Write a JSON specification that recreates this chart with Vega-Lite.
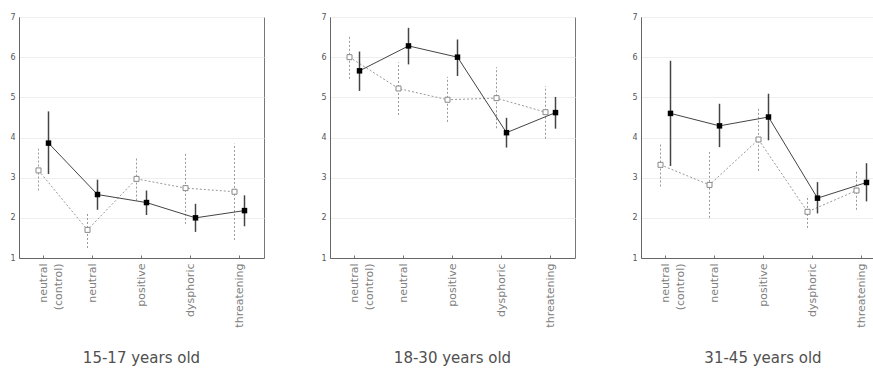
{
  "$schema": "https://vega.github.io/schema/vega-lite/v6.json",
  "padding": {"left": 9, "top": 12, "right": 0, "bottom": 0},
  "background": "white",
  "config": {
    "view": {"stroke": "#777", "strokeWidth": 1},
    "font": "DejaVu Sans",
    "axisX": {"labelAngle": -90, "labelAlign": "right", "labelBaseline": "middle", "labelFontSize": 11, "labelColor": "#808080", "labelPadding": 8, "tickSize": -3, "tickColor": "#777", "domain": true, "domainColor": "#666", "grid": false, "title": null, "labelLineHeight": 15},
    "axisY": {"labelFontSize": 8, "labelColor": "#555", "labelPadding": 4, "ticks": false, "domain": true, "domainColor": "#666", "grid": true, "gridColor": "#eeeeee", "title": null},
    "title": {"orient": "bottom", "fontSize": 15, "fontWeight": "normal", "color": "#505050", "frame": "group", "anchor": "middle", "offset": 24}
  },
  "data": {"values": [
    {"age": "15-17", "cond": "neutral (control)", "group": "A", "mean": 3.86, "lo": 3.09, "hi": 4.65},
    {"age": "15-17", "cond": "neutral", "group": "A", "mean": 2.58, "lo": 2.20, "hi": 2.95},
    {"age": "15-17", "cond": "positive", "group": "A", "mean": 2.38, "lo": 2.07, "hi": 2.68},
    {"age": "15-17", "cond": "dysphoric", "group": "A", "mean": 2.00, "lo": 1.65, "hi": 2.35},
    {"age": "15-17", "cond": "threatening", "group": "A", "mean": 2.18, "lo": 1.79, "hi": 2.56},
    {"age": "15-17", "cond": "neutral (control)", "group": "B", "mean": 3.18, "lo": 2.68, "hi": 3.72},
    {"age": "15-17", "cond": "neutral", "group": "B", "mean": 1.70, "lo": 1.25, "hi": 2.13},
    {"age": "15-17", "cond": "positive", "group": "B", "mean": 2.97, "lo": 2.43, "hi": 3.51},
    {"age": "15-17", "cond": "dysphoric", "group": "B", "mean": 2.74, "lo": 1.85, "hi": 3.64},
    {"age": "15-17", "cond": "threatening", "group": "B", "mean": 2.65, "lo": 1.45, "hi": 3.85},
    {"age": "18-30", "cond": "neutral (control)", "group": "A", "mean": 5.66, "lo": 5.16, "hi": 6.14},
    {"age": "18-30", "cond": "neutral", "group": "A", "mean": 6.28, "lo": 5.82, "hi": 6.73},
    {"age": "18-30", "cond": "positive", "group": "A", "mean": 6.00, "lo": 5.53, "hi": 6.44},
    {"age": "18-30", "cond": "dysphoric", "group": "A", "mean": 4.12, "lo": 3.75, "hi": 4.49},
    {"age": "18-30", "cond": "threatening", "group": "A", "mean": 4.62, "lo": 4.22, "hi": 5.01},
    {"age": "18-30", "cond": "neutral (control)", "group": "B", "mean": 6.00, "lo": 5.46, "hi": 6.54},
    {"age": "18-30", "cond": "neutral", "group": "B", "mean": 5.22, "lo": 4.56, "hi": 5.87},
    {"age": "18-30", "cond": "positive", "group": "B", "mean": 4.94, "lo": 4.39, "hi": 5.51},
    {"age": "18-30", "cond": "dysphoric", "group": "B", "mean": 4.98, "lo": 4.23, "hi": 5.75},
    {"age": "18-30", "cond": "threatening", "group": "B", "mean": 4.63, "lo": 3.97, "hi": 5.28},
    {"age": "31-45", "cond": "neutral (control)", "group": "A", "mean": 4.60, "lo": 3.29, "hi": 5.91},
    {"age": "31-45", "cond": "neutral", "group": "A", "mean": 4.29, "lo": 3.76, "hi": 4.84},
    {"age": "31-45", "cond": "positive", "group": "A", "mean": 4.51, "lo": 3.93, "hi": 5.09},
    {"age": "31-45", "cond": "dysphoric", "group": "A", "mean": 2.49, "lo": 2.11, "hi": 2.89},
    {"age": "31-45", "cond": "threatening", "group": "A", "mean": 2.88, "lo": 2.41, "hi": 3.36},
    {"age": "31-45", "cond": "neutral (control)", "group": "B", "mean": 3.32, "lo": 2.78, "hi": 3.85},
    {"age": "31-45", "cond": "neutral", "group": "B", "mean": 2.82, "lo": 2.00, "hi": 3.64},
    {"age": "31-45", "cond": "positive", "group": "B", "mean": 3.95, "lo": 3.17, "hi": 4.73},
    {"age": "31-45", "cond": "dysphoric", "group": "B", "mean": 2.15, "lo": 1.75, "hi": 2.55},
    {"age": "31-45", "cond": "threatening", "group": "B", "mean": 2.68, "lo": 2.20, "hi": 3.16}
  ]},
  "spacing": 55,
  "hconcat": [
    {
      "width": 245, "height": 241,
      "title": "15-17 years old",
      "transform": [{"filter": "datum.age == '15-17'"}],
      "encoding": {
        "x": {"field": "cond", "type": "nominal", "sort": ["neutral (control)", "neutral", "positive", "dysphoric", "threatening"], "scale": {"paddingInner": 0, "paddingOuter": 0}, "axis": {"labelExpr": "datum.value == 'neutral (control)' ? ['neutral', '(control)'] : datum.value"}},
        "y": {"field": "mean", "type": "quantitative", "scale": {"domain": [1, 7], "nice": false, "zero": false}, "axis": {"values": [1, 2, 3, 4, 5, 6, 7]}}
      },
      "layer": [
        {"transform": [{"filter": "datum.group == 'B'"}], "mark": {"type": "rule", "xOffset": -5, "stroke": "#999", "strokeWidth": 1, "strokeDash": [2, 2]}, "encoding": {"y": {"field": "lo", "type": "quantitative"}, "y2": {"field": "hi"}}},
        {"transform": [{"filter": "datum.group == 'B'"}], "mark": {"type": "line", "xOffset": -5, "stroke": "#999", "strokeWidth": 1, "strokeDash": [2, 2]}, "encoding": {}},
        {"transform": [{"filter": "datum.group == 'B'"}], "mark": {"type": "square", "xOffset": -5, "fill": "white", "stroke": "#888", "strokeWidth": 1, "size": 25, "opacity": 1}, "encoding": {}},
        {"transform": [{"filter": "datum.group == 'A'"}], "mark": {"type": "rule", "xOffset": 5, "stroke": "#444", "strokeWidth": 1.5}, "encoding": {"y": {"field": "lo", "type": "quantitative"}, "y2": {"field": "hi"}}},
        {"transform": [{"filter": "datum.group == 'A'"}], "mark": {"type": "line", "xOffset": 5, "stroke": "#444", "strokeWidth": 1}, "encoding": {}},
        {"transform": [{"filter": "datum.group == 'A'"}], "mark": {"type": "square", "xOffset": 5, "fill": "black", "size": 30, "opacity": 1}, "encoding": {}}
      ]
    },
    {
      "width": 245, "height": 241,
      "title": "18-30 years old",
      "transform": [{"filter": "datum.age == '18-30'"}],
      "encoding": {
        "x": {"field": "cond", "type": "nominal", "sort": ["neutral (control)", "neutral", "positive", "dysphoric", "threatening"], "scale": {"paddingInner": 0, "paddingOuter": 0}, "axis": {"labelExpr": "datum.value == 'neutral (control)' ? ['neutral', '(control)'] : datum.value"}},
        "y": {"field": "mean", "type": "quantitative", "scale": {"domain": [1, 7], "nice": false, "zero": false}, "axis": {"values": [1, 2, 3, 4, 5, 6, 7]}}
      },
      "layer": [
        {"transform": [{"filter": "datum.group == 'B'"}], "mark": {"type": "rule", "xOffset": -5, "stroke": "#999", "strokeWidth": 1, "strokeDash": [2, 2]}, "encoding": {"y": {"field": "lo", "type": "quantitative"}, "y2": {"field": "hi"}}},
        {"transform": [{"filter": "datum.group == 'B'"}], "mark": {"type": "line", "xOffset": -5, "stroke": "#999", "strokeWidth": 1, "strokeDash": [2, 2]}, "encoding": {}},
        {"transform": [{"filter": "datum.group == 'B'"}], "mark": {"type": "square", "xOffset": -5, "fill": "white", "stroke": "#888", "strokeWidth": 1, "size": 25, "opacity": 1}, "encoding": {}},
        {"transform": [{"filter": "datum.group == 'A'"}], "mark": {"type": "rule", "xOffset": 5, "stroke": "#444", "strokeWidth": 1.5}, "encoding": {"y": {"field": "lo", "type": "quantitative"}, "y2": {"field": "hi"}}},
        {"transform": [{"filter": "datum.group == 'A'"}], "mark": {"type": "line", "xOffset": 5, "stroke": "#444", "strokeWidth": 1}, "encoding": {}},
        {"transform": [{"filter": "datum.group == 'A'"}], "mark": {"type": "square", "xOffset": 5, "fill": "black", "size": 30, "opacity": 1}, "encoding": {}}
      ]
    },
    {
      "width": 234, "height": 241,
      "title": {"text": "31-45 years old", "dx": 5},
      "transform": [{"filter": "datum.age == '31-45'"}],
      "encoding": {
        "x": {"field": "cond", "type": "nominal", "sort": ["neutral (control)", "neutral", "positive", "dysphoric", "threatening"], "scale": {"paddingInner": 0, "paddingOuter": 0, "range": [0, 245]}, "axis": {"labelExpr": "datum.value == 'neutral (control)' ? ['neutral', '(control)'] : datum.value"}},
        "y": {"field": "mean", "type": "quantitative", "scale": {"domain": [1, 7], "nice": false, "zero": false}, "axis": {"values": [1, 2, 3, 4, 5, 6, 7]}}
      },
      "layer": [
        {"transform": [{"filter": "datum.group == 'B'"}], "mark": {"type": "rule", "xOffset": -5, "stroke": "#999", "strokeWidth": 1, "strokeDash": [2, 2]}, "encoding": {"y": {"field": "lo", "type": "quantitative"}, "y2": {"field": "hi"}}},
        {"transform": [{"filter": "datum.group == 'B'"}], "mark": {"type": "line", "xOffset": -5, "stroke": "#999", "strokeWidth": 1, "strokeDash": [2, 2]}, "encoding": {}},
        {"transform": [{"filter": "datum.group == 'B'"}], "mark": {"type": "square", "xOffset": -5, "fill": "white", "stroke": "#888", "strokeWidth": 1, "size": 25, "opacity": 1}, "encoding": {}},
        {"transform": [{"filter": "datum.group == 'A'"}], "mark": {"type": "rule", "xOffset": 5, "stroke": "#444", "strokeWidth": 1.5}, "encoding": {"y": {"field": "lo", "type": "quantitative"}, "y2": {"field": "hi"}}},
        {"transform": [{"filter": "datum.group == 'A'"}], "mark": {"type": "line", "xOffset": 5, "stroke": "#444", "strokeWidth": 1}, "encoding": {}},
        {"transform": [{"filter": "datum.group == 'A'"}], "mark": {"type": "square", "xOffset": 5, "fill": "black", "size": 30, "opacity": 1}, "encoding": {}}
      ]
    }
  ]
}
